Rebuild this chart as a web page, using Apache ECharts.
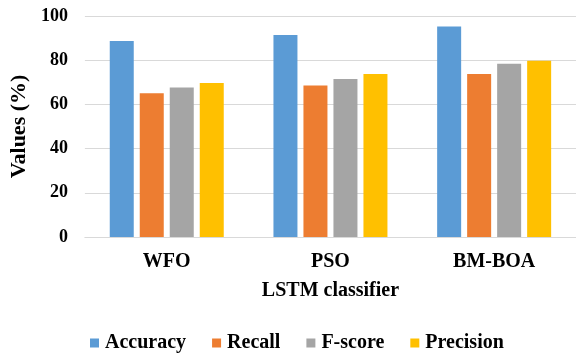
<!DOCTYPE html>
<html>
<head>
<meta charset="utf-8">
<script src="https://cdn.jsdelivr.net/npm/echarts@6/dist/echarts.min.js"></script>
<style>
  html, body { margin: 0; padding: 0; background: #fff; }
  #chart { width: 576px; height: 353px; }
</style>
</head>
<body>
<div id="chart"></div>
<script>
// Optimizers compared with the LSTM classifier
const categories = ['WFO', 'PSO', 'BM-BOA'];
const accuracy  = [88.7, 91.4, 95.2];
const recall    = [65.0, 68.6, 73.8];
const fScore    = [67.7, 71.5, 78.4];
const precision = [69.7, 73.8, 79.8];
const yTicks = [0, 20, 40, 60, 80, 100];

const FONT = '"Liberation Serif", "Times New Roman", serif';
const colors = ['#5B9BD5', '#ED7D31', '#A5A5A5', '#FFC000'];

const chart = echarts.init(document.getElementById('chart'), null, { renderer: 'canvas' });

function bar(name, data) {
  return {
    name: name,
    type: 'bar',
    data: data,
    barWidth: 24,
    barGap: '25%',
    barCategoryGap: '30%'
  };
}

chart.setOption({
  animation: false,
  color: colors,
  textStyle: { fontFamily: FONT },
  grid: { left: 81, top: 16, bottom: 116, width: 499, containLabel: false },
  legend: {
    left: 85,
    top: 328,
    itemWidth: 9,
    itemHeight: 9,
    itemGap: 26,
    icon: 'rect',
    textStyle: { fontFamily: FONT, fontWeight: 'bold', fontSize: 20, color: '#000', padding: [0, 0, 0, 1] },
    data: ['Accuracy', 'Recall', 'F-score', 'Precision']
  },
  xAxis: {
    type: 'category',
    data: categories,
    name: 'LSTM classifier',
    nameLocation: 'middle',
    nameGap: 44,
    nameTextStyle: { fontFamily: FONT, fontWeight: 'bold', fontSize: 20, color: '#000' },
    axisLine: { lineStyle: { color: '#d9d9d9', width: 1 } },
    axisTick: { show: false },
    axisLabel: { fontFamily: FONT, fontWeight: 'bold', fontSize: 20, color: '#000', margin: 15 }
  },
  yAxis: {
    type: 'value',
    min: yTicks[0],
    max: yTicks[yTicks.length - 1],
    interval: 20,
    name: 'Values (%)',
    nameLocation: 'middle',
    nameGap: 53,
    nameRotate: 90,
    nameTextStyle: { fontFamily: FONT, fontWeight: 'bold', fontSize: 22, color: '#000' },
    axisLine: { show: false },
    axisTick: { show: false },
    splitLine: { lineStyle: { color: '#d9d9d9', width: 1 } },
    axisLabel: { fontFamily: FONT, fontWeight: 'bold', fontSize: 18, color: '#000', margin: 17 }
  },
  series: [
    bar('Accuracy', accuracy),
    bar('Recall', recall),
    bar('F-score', fScore),
    bar('Precision', precision)
  ]
});
</script>
</body>
</html>
